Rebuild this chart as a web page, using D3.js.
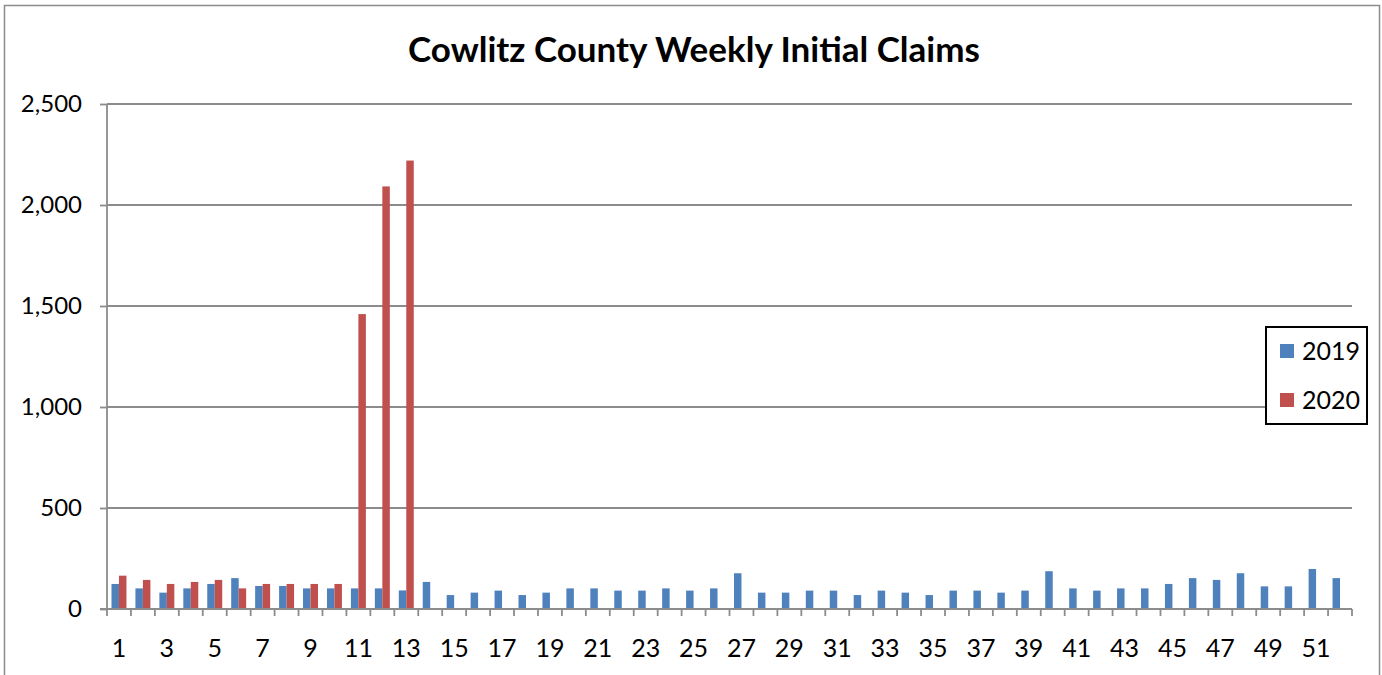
<!DOCTYPE html>
<html>
<head>
<meta charset="utf-8">
<script src="https://d3js.org/d3.v7.min.js"></script>
<style>
  body { margin: 0; background: #fff; }
  svg text { font-family: Lato, "Open Sans", sans-serif; fill: #000; }
</style>
</head>
<body>
<div id="container"></div>
<script>
// data
var weeks = d3.range(1, 53);
var claims2019 = [124, 102, 81, 102, 124, 153, 114, 114, 102, 102, 102, 102, 92, 134,
    69, 81, 91, 69, 81, 102, 102, 91, 91, 102, 91, 102, 177, 81, 81, 91, 91, 69, 91,
    81, 69, 91, 91, 81, 91, 187, 102, 91, 102, 102, 124, 153, 144, 177, 112, 112, 198, 153];
var claims2020 = [165, 144, 124, 134, 144, 102, 124, 124, 124, 124, 1460, 2092, 2220];
var seriesNames = ['2019', '2020'];
var seriesColors = ['#4F81BD', '#C0504D'];
var yTicks = [0, 500, 1000, 1500, 2000, 2500];

// parameters
var width = 1382,
    height = 675,
    plotLeft = 107,
    plotRight = 1352,
    plotTop = 104,
    plotBottom = 609;

var svg = d3.select('#container')
    .append('svg')
    .attr('width', width)
    .attr('height', height);

// outer chart border
svg.append('rect')
    .attr('x', 4.5).attr('y', 5.5)
    .attr('width', 1375).attr('height', 690)
    .attr('fill', 'none')
    .attr('stroke', '#8c8c8c')
    .attr('stroke-width', 1.5);

svg.append('text')
    .attr('x', 694).attr('y', 62)
    .attr('text-anchor', 'middle')
    .style('font-size', '35px')
    .style('font-weight', 'bold')
    .text('Cowlitz County Weekly Initial Claims');

// scales
var x = d3.scaleBand().domain(weeks).range([plotLeft, plotRight]).padding(0);
var barW = x.bandwidth() / 3.2;
var xs = d3.scaleBand().domain(seriesNames).range([0, barW * 2]);
var y = d3.scaleLinear().domain([0, 2500]).range([plotBottom, plotTop]);

// gridlines
svg.append('g').selectAll('line')
    .data(yTicks.slice(1))
    .enter().append('line')
    .attr('x1', plotLeft).attr('x2', plotRight)
    .attr('y1', function (d) { return y(d); })
    .attr('y2', function (d) { return y(d); })
    .attr('stroke', '#8c8c8c')
    .attr('stroke-width', 1.8);

// y axis
var yAxis = svg.append('g')
    .attr('transform', 'translate(' + plotLeft + ',0)')
    .call(d3.axisLeft(y).tickValues(yTicks).tickSize(7).tickPadding(18).tickFormat(d3.format(',')));
yAxis.selectAll('text').style('font-size', '24px');
yAxis.selectAll('line, path').attr('stroke', '#8c8c8c').attr('stroke-width', 1.8);
yAxis.select('.domain').attr('d', 'M0,' + plotTop + 'V' + plotBottom);

// bars
var table = weeks.map(function (w, i) {
    return { week: w, values: [claims2019[i], claims2020[i]] };
});

var groups = svg.append('g').selectAll('g')
    .data(table)
    .enter().append('g')
    .attr('transform', function (d) {
        return 'translate(' + (x(d.week) + (x.bandwidth() - barW * 2) / 2) + ',0)';
    });

groups.selectAll('rect')
    .data(function (d) {
        return d.values.map(function (v, k) { return { name: seriesNames[k], value: v, k: k }; })
            .filter(function (e) { return e.value != null; });
    })
    .enter().append('rect')
    .attr('x', function (d) { return xs(d.name); })
    .attr('width', xs.bandwidth())
    .attr('y', function (d) { return y(d.value); })
    .attr('height', function (d) { return plotBottom - y(d.value); })
    .attr('fill', function (d) { return seriesColors[d.k]; });

// x axis
var xAxisG = svg.append('g').attr('transform', 'translate(0,' + plotBottom + ')');
xAxisG.append('line')
    .attr('x1', plotLeft - 7).attr('x2', plotRight)
    .attr('stroke', '#8c8c8c').attr('stroke-width', 1.8);
xAxisG.selectAll('.tk')
    .data(weeks.concat([53]))
    .enter().append('line')
    .attr('class', 'tk')
    .attr('x1', function (d) { return d > 52 ? plotRight : x(d); })
    .attr('x2', function (d) { return d > 52 ? plotRight : x(d); })
    .attr('y1', 0).attr('y2', 7)
    .attr('stroke', '#8c8c8c').attr('stroke-width', 1.8);
xAxisG.selectAll('.lb')
    .data(weeks.filter(function (w) { return w % 2 == 1; }))
    .enter().append('text')
    .attr('class', 'lb')
    .attr('x', function (d) { return x(d) + x.bandwidth() / 2; })
    .attr('y', 48)
    .attr('text-anchor', 'middle')
    .style('font-size', '25px')
    .text(function (d) { return d; });

// legend
var legend = svg.append('g');
legend.append('rect')
    .attr('x', 1266).attr('y', 327)
    .attr('width', 101).attr('height', 97)
    .attr('fill', '#fff')
    .attr('stroke', '#000')
    .attr('stroke-width', 2);
seriesNames.forEach(function (s, k) {
    legend.append('rect')
        .attr('x', 1280).attr('y', 344 + k * 49)
        .attr('width', 14).attr('height', 14)
        .attr('fill', seriesColors[k]);
    legend.append('text')
        .attr('x', 1302).attr('y', 360 + k * 49)
        .style('font-size', '25px')
        .text(s);
});
</script>
</body>
</html>
